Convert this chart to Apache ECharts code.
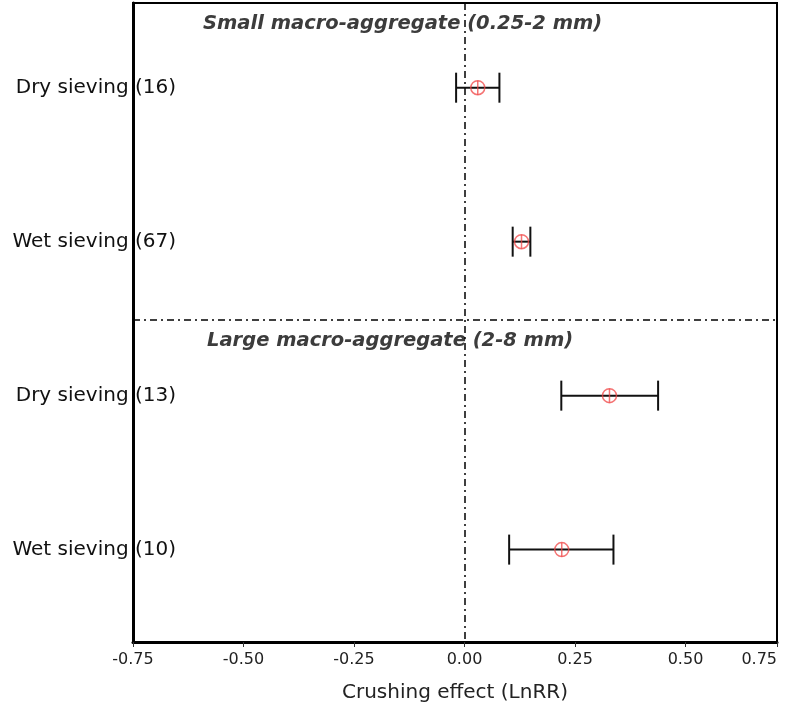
<!DOCTYPE html>
<html>
<head>
<meta charset="utf-8">
<script src="https://cdn.jsdelivr.net/npm/echarts@6/dist/echarts.min.js"></script>
<style>html,body{margin:0;padding:0;background:#fff}#c{width:786px;height:704px}</style>
</head>
<body>
<div id="c"></div>
<script>
// Data
var rowLabels = ['Dry sieving (16)', 'Wet sieving (67)', 'Dry sieving (13)', 'Wet sieving (10)'];
var rowPos = [0.55, 1.55, 2.55, 3.55];
var meanVals = [0.030, 0.129, 0.328, 0.220];
var lowVals = [-0.019, 0.109, 0.219, 0.101];
var highVals = [0.079, 0.149, 0.438, 0.337];
var groupTitles = ['Small macro-aggregate (0.25-2 mm)', 'Large macro-aggregate (2-8 mm)'];
var separatorPos = 2.06;
var X_MIN = -0.75, X_MAX = 0.707, X_INT = 0.25;
var xTickLabels = ['-0.75', '-0.50', '-0.25', '0.00', '0.25', '0.50', '0.75'];

var chart = echarts.init(document.getElementById('c'), null, {renderer: 'canvas'});

var barData = rowPos.map(function (y, i) { return [lowVals[i], highVals[i], meanVals[i], y]; });

var font = 'DejaVu Sans';
var option = {
  animation: false,
  backgroundColor: '#fff',
  grid: {left: 133, right: 9, top: 3, bottom: 62, show: true, borderColor: '#000', borderWidth: 2,
         backgroundColor: 'transparent', containLabel: false, outerBoundsMode: 'none'},
  xAxis: {
    type: 'value', min: X_MIN, max: X_MAX, interval: X_INT,
    name: 'Crushing effect (LnRR)', nameLocation: 'middle', nameGap: 41,
    nameTextStyle: {fontFamily: font, fontSize: 20, color: '#222'},
    axisLine: {show: true, onZero: false, lineStyle: {color: '#000', width: 3}},
    axisTick: {show: true, length: 5, lineStyle: {color: '#333', width: 1}},
    splitLine: {show: false},
    axisLabel: {
      fontFamily: font, fontSize: 16, color: '#222', margin: 10, showMaxLabel: true,
      alignMaxLabel: 'right',
      formatter: function (v) {
        if (Math.abs(v - X_MAX) < 1e-6) return xTickLabels[xTickLabels.length - 1];
        var idx = Math.round((v - X_MIN) / X_INT);
        return xTickLabels[idx];
      }
    }
  },
  yAxis: {
    type: 'value', inverse: true, min: 0, max: 4.15,
    axisLine: {show: true, onZero: false, lineStyle: {color: '#000', width: 3}},
    axisTick: {show: false},
    splitLine: {show: false},
    axisLabel: {
      show: true, customValues: rowPos, margin: -43, align: 'right',
      fontFamily: font, fontSize: 20, color: '#111',
      formatter: function (v) {
        for (var i = 0; i < rowPos.length; i++) if (Math.abs(rowPos[i] - v) < 1e-6) return rowLabels[i];
        return '';
      }
    }
  },
  graphic: [
    {type: 'text', left: 203, top: 14, style: {text: groupTitles[0], font: 'italic bold 19.5px "DejaVu Sans"', fill: '#3c3c3c'}},
    {type: 'text', left: 207, top: 331, style: {text: groupTitles[1], font: 'italic bold 19.5px "DejaVu Sans"', fill: '#3c3c3c'}}
  ],
  series: [
    {
      type: 'custom',
      data: barData,
      z: 5,
      renderItem: function (params, api) {
        var lo = api.coord([api.value(0), api.value(3)]);
        var hi = api.coord([api.value(1), api.value(3)]);
        var m = api.coord([api.value(2), api.value(3)]);
        var cap = 15, r = 7;
        var black = {stroke: '#111', lineWidth: 2};
        var red = {stroke: 'rgba(240,70,70,0.75)', lineWidth: 1.5, fill: null};
        return {
          type: 'group',
          children: [
            {type: 'line', shape: {x1: lo[0], y1: lo[1], x2: hi[0], y2: hi[1]}, style: black},
            {type: 'line', shape: {x1: lo[0], y1: lo[1] - cap, x2: lo[0], y2: lo[1] + cap}, style: black},
            {type: 'line', shape: {x1: hi[0], y1: hi[1] - cap, x2: hi[0], y2: hi[1] + cap}, style: black},
            {type: 'circle', shape: {cx: m[0], cy: m[1], r: r}, style: red},
            {type: 'line', shape: {x1: m[0], y1: m[1] - r, x2: m[0], y2: m[1] + r}, style: red}
          ]
        };
      },
      markLine: {
        silent: true, symbol: 'none', animation: false,
        label: {show: false},
        lineStyle: {color: '#000', width: 1.5, type: [7, 4, 2, 4]},
        data: [{xAxis: 0}, {yAxis: separatorPos}]
      }
    }
  ]
};
chart.setOption(option);
</script>
</body>
</html>
